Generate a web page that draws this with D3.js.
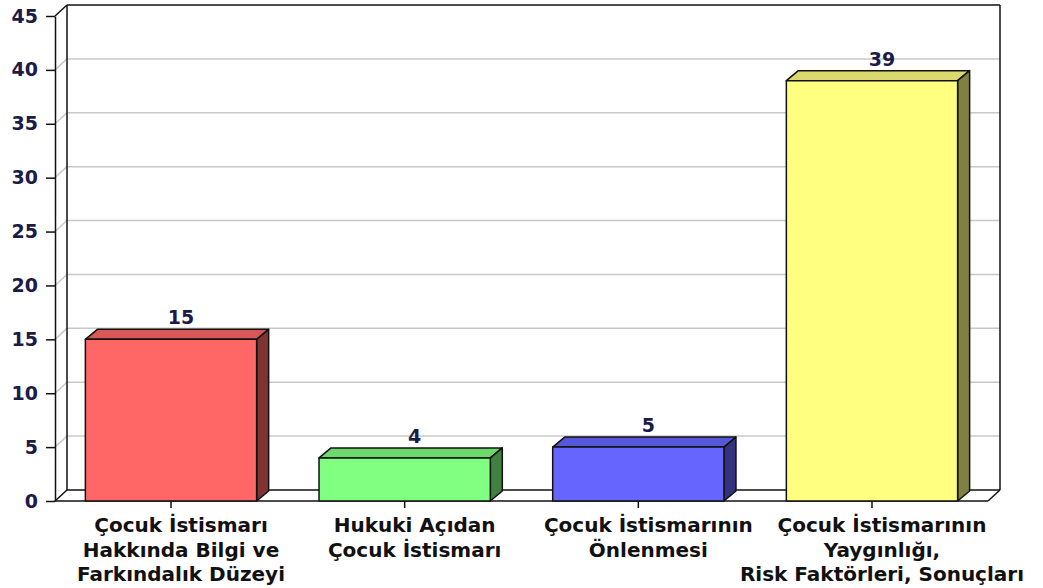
<!DOCTYPE html>
<html lang="tr">
<head>
    <meta charset="UTF-8">
    <title>Çocuk İstismarı</title>
    <script src="https://d3js.org/d3.v7.min.js"></script>
    <style>
        body { margin: 0; background: #fff; }
    </style>
</head>
<body>
    <svg id="chart" width="1043" height="588"></svg>

    <script>
        // Veriler
        const categories = [
            ["Çocuk İstismarı", "Hakkında Bilgi ve", "Farkındalık Düzeyi"],
            ["Hukuki Açıdan", "Çocuk İstismarı"],
            ["Çocuk İstismarının", "Önlenmesi"],
            ["Çocuk İstismarının", "Yaygınlığı,", "Risk Faktörleri, Sonuçları"]
        ];
        const values = [15, 4, 5, 39];
        const yTicks = [0, 5, 10, 15, 20, 25, 30, 35, 40, 45];
        const frontColors = ["#ff6666", "#80ff80", "#6666ff", "#ffff80"];
        const topColors = ["#d95757", "#6dd96d", "#5757d9", "#d9d96d"];
        const sideColors = ["#803333", "#408040", "#333380", "#808040"];

        const svg = d3.select("#chart");
        const plotLeft = 55, plotRight = 988, plotTop = 16, plotBottom = 501;
        const dx = 12, dy = -11;

        const x = d3.scaleBand()
                    .domain(d3.range(values.length))
                    .range([plotLeft, plotRight])
                    .paddingInner(0.267)
                    .paddingOuter(0.13);
        const y = d3.scaleLinear()
                    .domain([0, 45])
                    .range([plotBottom, plotTop]);

        // Arka duvar ve zemin
        const walls = svg.append("g");
        yTicks.filter(t => t > 0 && t < 45).forEach(t => {
            walls.append("line")
                 .attr("x1", plotLeft + dx).attr("x2", plotRight + dx)
                 .attr("y1", y(t) + dy).attr("y2", y(t) + dy)
                 .attr("stroke", "#c8c8c8").attr("stroke-width", 1.5);
            walls.append("line")
                 .attr("x1", plotLeft).attr("x2", plotLeft + dx)
                 .attr("y1", y(t)).attr("y2", y(t) + dy)
                 .attr("stroke", "#c8c8c8").attr("stroke-width", 1.5);
        });
        const edge = (x1, y1, x2, y2) => walls.append("line")
            .attr("x1", x1).attr("y1", y1).attr("x2", x2).attr("y2", y2)
            .attr("stroke", "#111").attr("stroke-width", 1.5);
        edge(plotLeft + dx, y(45) + dy, plotRight + dx, y(45) + dy);
        edge(plotLeft + dx, y(45) + dy, plotLeft + dx, y(0) + dy);
        edge(plotRight + dx, y(45) + dy, plotRight + dx, y(0) + dy);
        edge(plotLeft + dx, y(0) + dy, plotRight + dx, y(0) + dy);
        edge(plotLeft, y(0), plotRight, y(0));
        edge(plotLeft, y(0), plotLeft + dx, y(0) + dy);
        edge(plotRight, y(0), plotRight + dx, y(0) + dy);
        edge(plotLeft, y(45), plotLeft + dx, y(45) + dy);

        // Çubuklar
        const bars = svg.append("g")
                        .selectAll("g")
                        .data(values)
                        .join("g");
        const bdx = 12, bdy = -10;
        bars.append("polygon")
            .attr("points", (d, i) => {
                const x0 = x(i), w = x.bandwidth(), yt = y(d);
                return [[x0, yt], [x0 + bdx, yt + bdy], [x0 + w + bdx, yt + bdy], [x0 + w, yt]].join(" ");
            })
            .attr("fill", (d, i) => topColors[i]);
        bars.append("polygon")
            .attr("points", (d, i) => {
                const x1 = x(i) + x.bandwidth(), yt = y(d), yb = y(0);
                return [[x1, yt], [x1 + bdx, yt + bdy], [x1 + bdx, yb + bdy], [x1, yb]].join(" ");
            })
            .attr("fill", (d, i) => sideColors[i]);
        bars.append("rect")
            .attr("x", (d, i) => x(i))
            .attr("y", d => y(d))
            .attr("width", x.bandwidth())
            .attr("height", d => y(0) - y(d))
            .attr("fill", (d, i) => frontColors[i]);
        bars.selectAll("polygon, rect")
            .attr("stroke", "#111")
            .attr("stroke-width", 1.5)
            .attr("stroke-linejoin", "round");

        // Değer etiketleri
        bars.append("text")
            .attr("x", (d, i) => x(i) + x.bandwidth() / 2 + 10)
            .attr("y", d => y(d) - 15)
            .attr("text-anchor", "middle")
            .attr("font-family", "DejaVu Sans, sans-serif")
            .attr("font-weight", "bold")
            .attr("font-size", 19)
            .attr("fill", "#1b1b4a")
            .text(d => d);

        // Eksenler
        const yAxis = svg.append("g")
                         .attr("transform", `translate(${plotLeft},0)`)
                         .call(d3.axisLeft(y).tickValues(yTicks).tickSize(9).tickSizeOuter(0).tickPadding(8));
        yAxis.selectAll("path, line").attr("stroke", "#111").attr("stroke-width", 1.5);
        yAxis.selectAll("text")
             .attr("font-family", "DejaVu Sans, sans-serif")
             .attr("font-weight", "bold")
             .attr("font-size", 19)
             .attr("fill", "#1b1b4a");

        const xAxis = svg.append("g")
                         .attr("transform", `translate(0,${plotBottom})`)
                         .call(d3.axisBottom(x).tickSize(7).tickFormat(""));
        xAxis.select(".domain").remove();
        xAxis.selectAll("line").attr("stroke", "#111").attr("stroke-width", 1.5);

        const labels = svg.append("g")
                          .selectAll("text")
                          .data(categories)
                          .join("text")
                          .attr("text-anchor", "middle")
                          .attr("font-family", "DejaVu Sans, sans-serif")
                          .attr("font-weight", "bold")
                          .attr("font-size", 20)
                          .attr("fill", "#111");
        labels.selectAll("tspan")
              .data((d, i) => d.map(line => ({line, i})))
              .join("tspan")
              .attr("x", d => x(d.i) + x.bandwidth() / 2 + 10)
              .attr("y", (d, j) => 532 + j * 24.5)
              .text(d => d.line);
    </script>
</body>
</html>
